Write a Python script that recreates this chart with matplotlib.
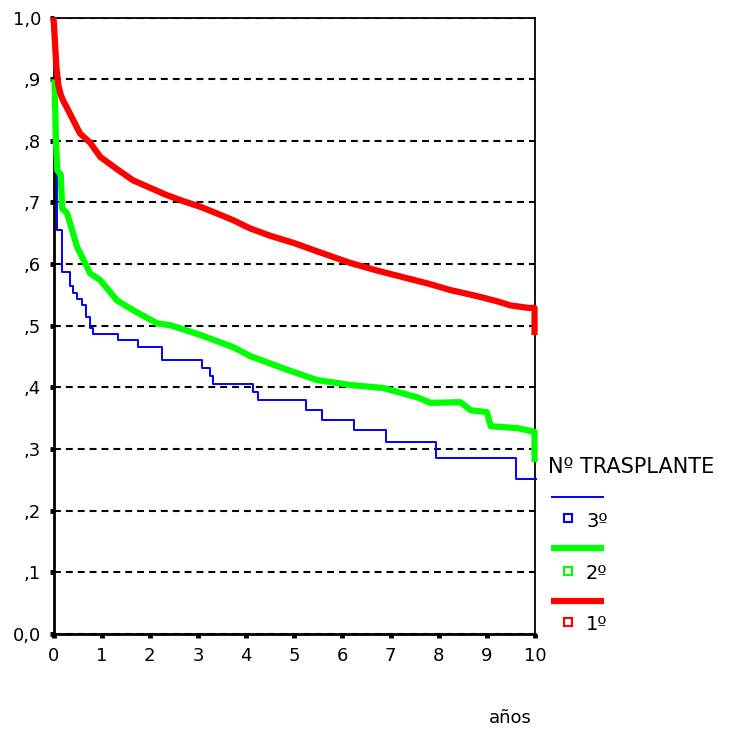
import matplotlib.pyplot as plt
from matplotlib.lines import Line2D

# survival curves (years, proportion)
red_x = [0, 0.03, 0.06, 0.1, 0.15, 0.2, 0.27, 0.4, 0.55, 0.76, 0.97, 1.3, 1.65,
         2.0, 2.35, 2.7, 3.05, 3.4, 3.74, 4.08, 4.5, 5.0, 5.5, 6.16, 6.7, 7.3,
         7.8, 8.24, 8.8, 9.2, 9.49, 9.86, 9.99, 9.99]
red_y = [1.0, 0.96, 0.92, 0.89, 0.875, 0.865, 0.855, 0.835, 0.812, 0.797, 0.774,
         0.755, 0.736, 0.724, 0.712, 0.702, 0.693, 0.682, 0.671, 0.658, 0.646,
         0.634, 0.62, 0.602, 0.59, 0.578, 0.568, 0.558, 0.548, 0.54, 0.533,
         0.529, 0.529, 0.485]

green_x = [0.02, 0.05, 0.08, 0.15, 0.18, 0.28, 0.49, 0.76, 0.97, 1.32, 1.66,
           2.15, 2.42, 3.05, 3.74, 4.08, 4.77, 5.47, 6.16, 6.85, 7.55, 7.83,
           8.45, 8.66, 9.0, 9.08, 9.63, 9.99, 9.99]
green_y = [0.90, 0.80, 0.752, 0.745, 0.69, 0.683, 0.628, 0.585, 0.574, 0.541,
           0.525, 0.504, 0.501, 0.485, 0.465, 0.451, 0.431, 0.412, 0.404, 0.399,
           0.384, 0.375, 0.376, 0.363, 0.360, 0.337, 0.334, 0.328, 0.279]

blue_x = [0, 0.03, 0.08, 0.17, 0.34, 0.41, 0.495, 0.586, 0.67, 0.75, 0.83,
          1.33, 1.75, 2.25, 3.09, 3.25, 3.32, 4.15, 4.24, 5.24, 5.58, 6.25,
          6.91, 7.95, 9.61, 10.03]
blue_y = [1.0, 0.75, 0.655, 0.587, 0.564, 0.553, 0.544, 0.534, 0.515, 0.496,
          0.487, 0.477, 0.466, 0.444, 0.432, 0.418, 0.405, 0.393, 0.379, 0.363,
          0.347, 0.331, 0.311, 0.286, 0.251, 0.251]

x_ticks = list(range(11))
y_ticks = [0.0, 0.1, 0.2, 0.3, 0.4, 0.5, 0.6, 0.7, 0.8, 0.9, 1.0]
y_labels = ['0,0', ',1', ',2', ',3', ',4', ',5', ',6', ',7', ',8', ',9', '1,0']

legend_labels = ['3º', '2º', '1º']
legend_colors = ['#0000ff', '#00ff00', '#ff0000']
legend_widths = [1.4, 4.5, 4.5]

fig = plt.figure(figsize=(7.34, 7.30), dpi=100)
ax = fig.add_axes([0.0729, 0.1315, 0.6560, 0.8445])

ax.plot(blue_x, blue_y, color='#0000ff', lw=1.4, drawstyle='steps-post',
        zorder=3, clip_on=False)
ax.plot(green_x, green_y, color='#00ff00', lw=4.5, zorder=4, clip_on=False,
        solid_capstyle='butt')
ax.plot(red_x, red_y, color='#ff0000', lw=4.5, zorder=5, clip_on=False,
        solid_capstyle='butt')

ax.set_xlim(0, 10)
ax.set_ylim(0, 1)
ax.set_xticks(x_ticks)
ax.set_xticklabels([str(t) for t in x_ticks])
ax.set_yticks(y_ticks)
ax.set_yticklabels(y_labels)

ax.grid(axis='y', color='black', lw=1.5, linestyle=(0, (3.3, 2.4)), zorder=1)
ax.set_axisbelow(True)

for side in ['left', 'bottom']:
    ax.spines[side].set_linewidth(2.0)
for side in ['top', 'right']:
    ax.spines[side].set_linewidth(1.3)

ax.tick_params(axis='both', direction='out', length=3, width=3.5,
               labelsize=13, color='black')
ax.tick_params(axis='y', pad=6)
ax.tick_params(axis='x', pad=6)

# legend, drawn on the figure to the right of the plot
fig.text(548 / 734, 1 - 467 / 730, 'Nº TRASPLANTE', fontsize=15,
         ha='left', va='center')
line_y = [496.7, 548.3, 600.7]
mark_y = [518.3, 570.5, 622]
for lab, col, w, ly, my in zip(legend_labels, legend_colors, legend_widths,
                                line_y, mark_y):
    fig.add_artist(Line2D([551 / 734, 604 / 734], [1 - ly / 730, 1 - ly / 730],
                          color=col, lw=w, transform=fig.transFigure,
                          solid_capstyle='butt'))
    fig.add_artist(Line2D([568 / 734], [1 - my / 730], marker='s', ms=6,
                          mfc='white', mec=col, mew=1.5, linestyle='none',
                          transform=fig.transFigure))
    fig.text(586 / 734, 1 - (my + 3) / 730, lab, fontsize=14,
             ha='left', va='center')

fig.text(510 / 734, 1 - 718 / 730, 'años', fontsize=13, ha='center',
         va='center')

fig.savefig('out.png', dpi=100)
